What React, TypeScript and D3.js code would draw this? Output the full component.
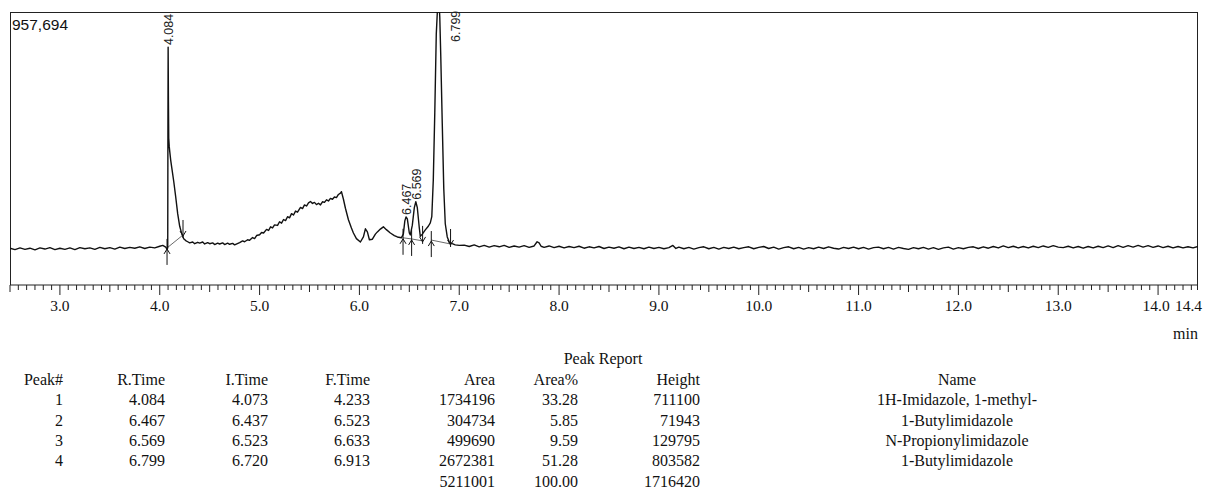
import React, { useEffect } from 'react';
import * as d3 from 'd3';

// chromatogram trace, [time (min), intensity]
const trace: [number, number][] = [
  [2.50, 118000], [2.55, 113000], [2.60, 119000], [2.65, 114000], [2.70, 118000], [2.75, 112000],
  [2.80, 119000], [2.85, 115000], [2.90, 120000], [2.95, 113000], [3.00, 118000], [3.05, 114000],
  [3.10, 119000], [3.15, 113000], [3.20, 120000], [3.25, 116000], [3.30, 119000], [3.35, 114000],
  [3.40, 121000], [3.45, 116000], [3.50, 120000], [3.55, 115000], [3.60, 122000], [3.65, 117000],
  [3.70, 121000], [3.75, 118000], [3.80, 123000], [3.85, 117000], [3.90, 122000], [3.95, 119000],
  [4.00, 125000], [4.03, 128000], [4.06, 122000], [4.075, 113000], [4.080, 121000], [4.082, 560000],
  [4.084, 833000], [4.087, 640000], [4.090, 510000], [4.095, 480000], [4.10, 462000], [4.11, 430000],
  [4.12, 405000], [4.14, 356000], [4.16, 300000], [4.18, 240000], [4.20, 196000], [4.22, 170000],
  [4.24, 152000], [4.26, 145000], [4.28, 141000], [4.30, 137000], [4.33, 140000], [4.35, 134000],
  [4.38, 139000], [4.40, 136000], [4.43, 140000], [4.45, 133000], [4.48, 138000], [4.50, 134000],
  [4.53, 137000], [4.55, 131000], [4.58, 136000], [4.60, 133000], [4.63, 137000], [4.65, 131000],
  [4.68, 136000], [4.70, 132000], [4.73, 135000], [4.75, 130000], [4.80, 138000], [4.83, 144000],
  [4.85, 141000], [4.88, 148000], [4.90, 146000], [4.93, 156000], [4.95, 152000], [4.97, 163000],
  [5.00, 166000], [5.02, 174000], [5.04, 172000], [5.07, 185000], [5.09, 181000], [5.11, 194000],
  [5.13, 190000], [5.15, 201000], [5.18, 199000], [5.20, 212000], [5.22, 207000], [5.24, 220000],
  [5.26, 216000], [5.28, 230000], [5.30, 226000], [5.32, 241000], [5.34, 236000], [5.36, 250000],
  [5.38, 246000], [5.41, 263000], [5.43, 259000], [5.45, 272000], [5.47, 268000], [5.49, 279000],
  [5.51, 284000], [5.53, 277000], [5.55, 281000], [5.57, 273000], [5.59, 278000], [5.61, 272000],
  [5.63, 283000], [5.65, 281000], [5.67, 290000], [5.69, 286000], [5.71, 295000], [5.73, 292000],
  [5.75, 300000], [5.77, 298000], [5.79, 309000], [5.81, 314000], [5.82, 319000], [5.84, 292000],
  [5.86, 260000], [5.89, 219000], [5.92, 190000], [5.94, 172000], [5.97, 152000], [6.01, 140000],
  [6.04, 158000], [6.06, 187000], [6.08, 176000], [6.10, 148000], [6.13, 150000], [6.16, 168000],
  [6.18, 176000], [6.21, 186000], [6.24, 194000], [6.27, 184000], [6.31, 172000], [6.35, 163000],
  [6.38, 158000], [6.42, 155000], [6.44, 168000], [6.455, 215000], [6.467, 229000], [6.48, 222000],
  [6.50, 172000], [6.51, 165000], [6.53, 200000], [6.55, 262000], [6.565, 283000], [6.58, 262000],
  [6.60, 190000], [6.61, 160000], [6.63, 168000], [6.66, 183000], [6.69, 196000], [6.71, 208000],
  [6.725, 230000], [6.74, 360000], [6.755, 600000], [6.77, 880000], [6.785, 990000], [6.795, 1010000],
  [6.805, 940000], [6.815, 800000], [6.83, 560000], [6.845, 330000], [6.86, 205000], [6.88, 158000],
  [6.90, 140000], [6.93, 134000], [6.96, 130000], [7.00, 128000], [7.05, 129000], [7.10, 124000],
  [7.15, 130000], [7.20, 123000], [7.25, 128000], [7.30, 122000], [7.35, 127000], [7.40, 123000],
  [7.45, 128000], [7.50, 121000], [7.55, 126000], [7.60, 122000], [7.65, 127000], [7.70, 121000],
  [7.75, 126000], [7.78, 141000], [7.80, 137000], [7.82, 125000], [7.85, 121000], [7.90, 126000],
  [7.95, 120000], [8.00, 125000], [8.05, 119000], [8.10, 124000], [8.15, 120000], [8.20, 125000],
  [8.25, 118000], [8.30, 123000], [8.35, 119000], [8.40, 124000], [8.45, 117000], [8.50, 122000],
  [8.55, 118000], [8.60, 123000], [8.65, 116000], [8.70, 122000], [8.75, 117000], [8.80, 121000],
  [8.85, 116000], [8.90, 122000], [8.95, 117000], [9.00, 121000], [9.05, 116000], [9.10, 120000],
  [9.14, 128000], [9.17, 117000], [9.20, 122000], [9.25, 116000], [9.30, 121000], [9.35, 115000],
  [9.40, 120000], [9.45, 123000], [9.50, 116000], [9.55, 121000], [9.60, 115000], [9.65, 121000],
  [9.70, 117000], [9.75, 122000], [9.80, 116000], [9.85, 120000], [9.90, 123000], [9.95, 116000],
  [10.00, 121000], [10.05, 124000], [10.10, 117000], [10.15, 122000], [10.20, 115000], [10.25, 120000],
  [10.30, 123000], [10.35, 116000], [10.40, 121000], [10.45, 115000], [10.50, 120000], [10.55, 116000],
  [10.60, 122000], [10.65, 117000], [10.70, 123000], [10.75, 118000], [10.80, 115000], [10.85, 121000],
  [10.90, 117000], [10.95, 122000], [11.00, 116000], [11.05, 121000], [11.10, 115000], [11.15, 120000],
  [11.20, 122000], [11.25, 116000], [11.30, 121000], [11.35, 115000], [11.40, 121000], [11.45, 117000],
  [11.50, 114000], [11.55, 120000], [11.60, 116000], [11.65, 121000], [11.70, 115000], [11.75, 120000],
  [11.80, 114000], [11.85, 119000], [11.90, 122000], [11.95, 115000], [12.00, 120000], [12.05, 116000],
  [12.10, 121000], [12.15, 123000], [12.20, 117000], [12.25, 123000], [12.30, 118000], [12.35, 124000],
  [12.40, 119000], [12.45, 126000], [12.50, 120000], [12.55, 125000], [12.60, 119000], [12.65, 124000],
  [12.70, 119000], [12.75, 125000], [12.80, 120000], [12.85, 126000], [12.90, 121000], [12.95, 127000],
  [13.00, 122000], [13.05, 120000], [13.10, 125000], [13.15, 119000], [13.20, 124000], [13.25, 118000],
  [13.30, 124000], [13.35, 119000], [13.40, 125000], [13.45, 120000], [13.50, 126000], [13.55, 120000],
  [13.60, 127000], [13.65, 121000], [13.70, 127000], [13.75, 122000], [13.80, 128000], [13.85, 122000],
  [13.90, 127000], [13.95, 121000], [14.00, 126000], [14.05, 120000], [14.10, 125000], [14.15, 119000],
  [14.20, 124000], [14.25, 119000], [14.30, 123000], [14.35, 119000], [14.40, 124000],
];

// peak report
const peakNo = [1, 2, 3, 4];
const rTime = [4.084, 6.467, 6.569, 6.799];
const iTime = [4.073, 6.437, 6.523, 6.720];
const fTime = [4.233, 6.523, 6.633, 6.913];
const area = [1734196, 304734, 499690, 2672381];
const areaPct = [33.28, 5.85, 9.59, 51.28];
const height = [711100, 71943, 129795, 803582];
const names = ['1H-Imidazole, 1-methyl-', '1-Butylimidazole', 'N-Propionylimidazole', '1-Butylimidazole'];

// integration baseline levels at start / end of each peak
const baseStart = [119000, 155000, 151000, 147000];
const baseEnd = [165000, 151000, 144000, 133000];

const xTickLabels = [3, 4, 5, 6, 7, 8, 9, 10, 11, 12, 13, 14];
const yMaxLabel = '957,694';

const W = 1212;
const H = 490;

export default function App() {
  useEffect(() => {
    document.body.style.margin = '0';
  }, []);

  const x = d3.scaleLinear().domain([2.5, 14.4]).range([10, 1198]);
  const y = d3.scaleLinear().domain([-12800, 957694]).range([285, 12]);
  const line = d3.line<[number, number]>().x(d => x(d[0])).y(d => y(d[1]));

  const ticks = d3.range(0, 143).map(i => 2.5 + i / 12).concat([14.4]);

  const apexAt = (t: number) => {
    const i = d3.minIndex(trace, d => Math.abs(d[0] - t));
    return trace[i][1];
  };

  const serif = '"Liberation Serif", "Times New Roman", serif';
  const sans = '"Liberation Sans", Arial, sans-serif';

  const cols = [63, 165, 268, 370, 495, 578, 700];
  const headers = ['Peak#', 'R.Time', 'I.Time', 'F.Time', 'Area', 'Area%', 'Height'];
  const rowY0 = 385;
  const rowDy = 20.3;

  return (
    <svg width={W} height={H} style={{ display: 'block', background: '#fff' }}>
      <defs>
        <clipPath id="plot">
          <rect x={10} y={12} width={1188} height={273} />
        </clipPath>
      </defs>

      <rect x={10.5} y={12.5} width={1187} height={272.5} fill="none" stroke="#222" strokeWidth={1} />

      <g clipPath="url(#plot)">
        {/* integration baselines */}
        {peakNo.map((p, i) => (
          <line key={'b' + p} x1={x(iTime[i])} y1={y(baseStart[i])} x2={x(fTime[i])} y2={y(baseEnd[i])}
            stroke="#444" strokeWidth={0.8} />
        ))}
        <path d={line(trace) || ''} fill="none" stroke="#111" strokeWidth={1.4} strokeLinejoin="round" />
        {/* start / end markers */}
        {peakNo.map((p, i) => {
          const xs = x(iTime[i]);
          const ys = y(baseStart[i]);
          const xe = x(fTime[i]);
          const ye = y(baseEnd[i]);
          const endIsStart = iTime.includes(fTime[i]);
          return (
            <g key={'m' + p} stroke="#111" strokeWidth={1} fill="none">
              <line x1={xs} y1={ys - 9} x2={xs} y2={ys + 17} />
              <path d={`M${xs - 3},${ys + 6}L${xs},${ys + 1}L${xs + 3},${ys + 6}`} />
              {!endIsStart && <line x1={xe} y1={ye - 15} x2={xe} y2={ye + 3} />}
              {!endIsStart && <path d={`M${xe - 3},${ye - 4}L${xe},${ye + 1}L${xe + 3},${ye - 4}`} />}
            </g>
          );
        })}
      </g>

      {/* peak labels */}
      {rTime.map((t, i) => {
        let px = x(t);
        let py = y(apexAt(t)) - 2;
        if (py < 45) {
          px += 16;
          py = 42;
        }
        return (
          <text key={'l' + i} transform={`translate(${px + 4.5},${py}) rotate(-90)`}
            fontFamily={sans} fontSize={12.5} fill="#222">{t.toFixed(3)}</text>
        );
      })}

      <text x={12} y={30} fontFamily={sans} fontSize={15.5} fill="#111">{yMaxLabel}</text>

      {/* time axis */}
      {ticks.map((t, i) => {
        const major = Math.abs(t - Math.round(t)) < 1e-6;
        const half = Math.abs(t * 2 - Math.round(t * 2)) < 1e-6;
        const len = major ? 10 : half ? 7 : 5;
        const xx = Math.min(x(t), 1197.5);
        return <line key={'t' + i} x1={xx} y1={285} x2={xx} y2={285 + len} stroke="#222" strokeWidth={1} />;
      })}
      {xTickLabels.map(v => (
        <text key={'x' + v} x={x(v) - (v === 14 ? 2 : 0)} y={311} textAnchor="middle" fontFamily={serif}
          fontSize={15.5} fill="#111">
          {v.toFixed(1)}
        </text>
      ))}
      <text x={x(14.4) + 4} y={311} textAnchor="end" fontFamily={serif} fontSize={15.5} fill="#111">14.4</text>
      <text x={1198} y={339} textAnchor="end" fontFamily={serif} fontSize={16} fill="#111">min</text>

      {/* peak report table */}
      <g fontFamily={serif} fontSize={16} fill="#111">
        <text x={603} y={364} textAnchor="middle">Peak Report</text>
        {headers.map((h, j) => (
          <text key={'h' + j} x={cols[j]} y={rowY0} textAnchor="end">{h}</text>
        ))}
        <text x={957} y={rowY0} textAnchor="middle">Name</text>
        {peakNo.map((p, i) => {
          const vals = [String(p), rTime[i].toFixed(3), iTime[i].toFixed(3), fTime[i].toFixed(3),
            String(area[i]), areaPct[i].toFixed(2), String(height[i])];
          const yy = rowY0 + rowDy * (i + 1);
          return (
            <g key={'r' + p}>
              {vals.map((v, j) => (
                <text key={j} x={cols[j]} y={yy} textAnchor="end">{v}</text>
              ))}
              <text x={957} y={yy} textAnchor="middle">{names[i]}</text>
            </g>
          );
        })}
        <text x={cols[4]} y={rowY0 + rowDy * 5} textAnchor="end">{String(d3.sum(area))}</text>
        <text x={cols[5]} y={rowY0 + rowDy * 5} textAnchor="end">{d3.sum(areaPct).toFixed(2)}</text>
        <text x={cols[6]} y={rowY0 + rowDy * 5} textAnchor="end">{String(d3.sum(height))}</text>
      </g>
    </svg>
  );
}
